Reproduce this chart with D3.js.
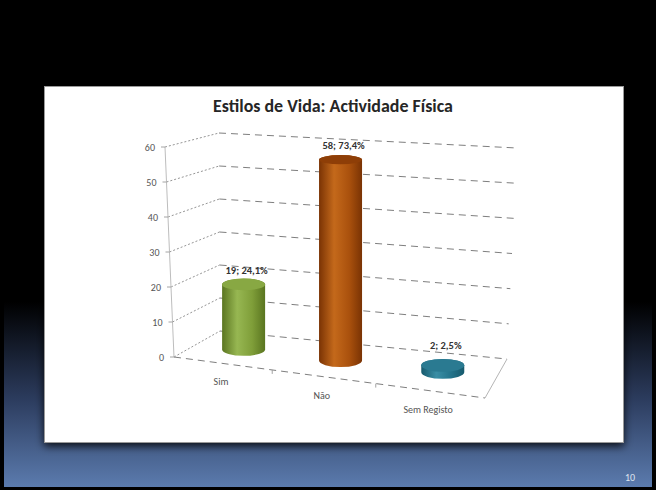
<!DOCTYPE html>
<html>
<head>
<meta charset="utf-8">
<script src="https://cdn.jsdelivr.net/npm/d3@7"></script>
<style>
  html, body { margin: 0; padding: 0; background: #000; }
  svg { display: block; }
  text { font-family: Carlito, Calibri, Lato, "Open Sans", sans-serif; }
</style>
</head>
<body>
<svg id="chart" width="656" height="490"></svg>
<script>
// ---- data ----
const categories = ["Sim", "Não", "Sem Registo"];
const counts = [19, 58, 2];
const percents = ["24,1%", "73,4%", "2,5%"];
const yTicks = [0, 10, 20, 30, 40, 50, 60];
const title = "Estilos de Vida: Actividade Física";
const slideNumber = "10";

// ---- colours per series ----
const palettes = [
  { dark: "#5a7520", mid: "#7f9e39", light: "#97b752", top: "#88a843" },
  { dark: "#7a3304", mid: "#aa510d", light: "#c4691b", top: "#8e3e07" },
  { dark: "#175a6d", mid: "#23738a", light: "#3a8ea5", top: "#2a7a91" }
];

const W = 656, H = 490;
const svg = d3.select("#chart");
const defs = svg.append("defs");

// slide background: black fading into blue towards the bottom
const bg = defs.append("linearGradient").attr("id", "bgGrad")
  .attr("x1", 0).attr("y1", 0).attr("x2", 0).attr("y2", 1);
bg.append("stop").attr("offset", 0).attr("stop-color", "#000");
bg.append("stop").attr("offset", 0.62).attr("stop-color", "#000");
bg.append("stop").attr("offset", 0.82).attr("stop-color", "#2c3c5e");
bg.append("stop").attr("offset", 1).attr("stop-color", "#5b7bae");

const shadow = defs.append("filter").attr("id", "panelShadow")
  .attr("x", "-10%").attr("y", "-10%").attr("width", "120%").attr("height", "125%");
shadow.append("feDropShadow").attr("dx", 0).attr("dy", 3)
  .attr("stdDeviation", 4).attr("flood-color", "#000").attr("flood-opacity", 0.85);

svg.append("rect").attr("width", W).attr("height", H).attr("fill", "#000");
svg.append("rect").attr("x", 4).attr("y", 0).attr("width", 648).attr("height", 487)
  .attr("fill", "url(#bgGrad)");

// white chart panel
svg.append("rect").attr("x", 44.5).attr("y", 86.5).attr("width", 579).attr("height", 356)
  .attr("fill", "#fff").attr("stroke", "#9a9a9a").attr("stroke-width", 1)
  .attr("filter", "url(#panelShadow)");

// page number
svg.append("text").attr("x", 630).attr("y", 481).attr("text-anchor", "middle")
  .attr("font-size", 10).attr("fill", "#dfe5f0").text(slideNumber);

// title, fitted to its width
const titleEl = svg.append("text").attr("x", 333).attr("y", 112)
  .attr("text-anchor", "middle").attr("font-weight", "bold")
  .attr("font-size", 17).attr("fill", "#262626").text(title);
const tw = titleEl.node().getComputedTextLength();
titleEl.attr("font-size", 17 * Math.min(1.1, 240 / tw));

// ---- 3D box projection ----
// corners of the plot box on screen: F/B = front/back, L/R = left/right, B/T = bottom/top
const box = {
  FLB: [174, 357], FLT: [165, 147],
  BLB: [220, 331], BLT: [219, 133],
  FRB: [485, 398], FRT: [497, 185],
  BRB: [507, 359], BRT: [517, 148]
};
const lerp = (a, b, t) => [a[0] + (b[0] - a[0]) * t, a[1] + (b[1] - a[1]) * t];
// perspective foreshortening along the category direction
const warp = u => u / (u + (1 - u) * 1.083);
// u: category position 0..1, w: depth 0 (front)..1 (back), t: value fraction 0..1
function proj(u, w, t) {
  const a = warp(u);
  const bot = lerp(lerp(box.FLB, box.BLB, w), lerp(box.FRB, box.BRB, w), a);
  const top = lerp(lerp(box.FLT, box.BLT, w), lerp(box.FRT, box.BRT, w), a);
  return lerp(bot, top, t);
}

const y = d3.scaleLinear().domain([0, 60]).range([0, 1]);
const x = d3.scaleBand().domain(categories).range([0, 1]).padding(0);
const xc = c => x(c) + x.bandwidth() / 2;

const line = d3.line();
const g = svg.append("g");

// back-wall gridlines
g.selectAll(".backGrid").data(yTicks).join("path")
  .attr("d", v => line([proj(0, 1, y(v)), proj(1, 1, y(v))]))
  .attr("fill", "none").attr("stroke", "#6f6f6f").attr("stroke-width", 0.9)
  .attr("stroke-dasharray", "7,5");

// side-wall gridlines
g.selectAll(".sideGrid").data(yTicks).join("path")
  .attr("d", v => line([proj(0, 0, y(v)), proj(0, 1, y(v))]))
  .attr("fill", "none").attr("stroke", "#7a7a7a").attr("stroke-width", 0.8)
  .attr("stroke-dasharray", "2,2");

// floor edges
g.append("path").attr("d", line([proj(0, 0, 0), proj(1, 0, 0)]))
  .attr("fill", "none").attr("stroke", "#6f6f6f").attr("stroke-width", 0.9)
  .attr("stroke-dasharray", "7,5");
g.append("path").attr("d", line([proj(1, 0, 0), proj(1, 1, 0)]))
  .attr("fill", "none").attr("stroke", "#b5b5b5").attr("stroke-width", 1);

// category boundary ticks on the front floor edge
g.selectAll(".catTick").data(categories.slice(1)).join("path")
  .attr("d", c => { const p = proj(x(c), 0, 0); return line([p, [p[0], p[1] + 4]]); })
  .attr("stroke", "#9a9a9a").attr("stroke-width", 0.9);

// value axis
g.append("path").attr("d", line([proj(0, 0, 0), proj(0, 0, 1)]))
  .attr("fill", "none").attr("stroke", "#bdbdbd").attr("stroke-width", 1);
g.selectAll(".yTick").data(yTicks).join("path")
  .attr("d", v => { const p = proj(0, 0, y(v)); return line([[p[0] - 4, p[1]], p]); })
  .attr("stroke", "#9a9a9a").attr("stroke-width", 0.9);
g.selectAll(".yLabel").data(yTicks).join("text")
  .attr("x", v => proj(0, 0, y(v))[0] - 10)
  .attr("y", v => proj(0, 0, y(v))[1] + 3.5)
  .attr("text-anchor", "end").attr("font-size", 10).attr("fill", "#555")
  .text(v => v);

// category labels
g.selectAll(".xLabel").data(categories).join("text")
  .attr("x", c => proj(xc(c), 0, 0)[0] - 1.5)
  .attr("y", c => proj(xc(c), 0, 0)[1] + 22)
  .attr("text-anchor", "middle").attr("font-size", 10).attr("fill", "#555")
  .text(c => c);

// ---- cylinders ----
const rx = 21.5;
categories.forEach((c, i) => {
  const pal = palettes[i];
  const gid = "cyl" + i;
  const grad = defs.append("linearGradient").attr("id", gid)
    .attr("x1", 0).attr("y1", 0).attr("x2", 1).attr("y2", 0);
  grad.append("stop").attr("offset", 0).attr("stop-color", pal.dark);
  grad.append("stop").attr("offset", 0.35).attr("stop-color", pal.light);
  grad.append("stop").attr("offset", 0.7).attr("stop-color", pal.mid);
  grad.append("stop").attr("offset", 1).attr("stop-color", pal.dark);

  const u = xc(c);
  const t = y(counts[i]);
  const base = proj(u, 0.5, 0);
  const cx = base[0], yb = base[1];
  const yt = proj(u, 0.5, t)[1];
  const ryB = 6.5, ryT = 6.5 - 2 * t;

  g.append("path")
    .attr("d", `M${cx - rx},${yt} L${cx - rx},${yb} A${rx},${ryB} 0 0 0 ${cx + rx},${yb} ` +
               `L${cx + rx},${yt} A${rx},${ryT} 0 0 0 ${cx - rx},${yt} Z`)
    .attr("fill", `url(#${gid})`);
  g.append("ellipse").attr("cx", cx).attr("cy", yt).attr("rx", rx).attr("ry", ryT)
    .attr("fill", pal.top);

  // value label
  const lp = proj(u, 1, t);
  g.append("text").attr("x", cx + 3).attr("y", lp[1] + 2)
    .attr("text-anchor", "middle").attr("font-size", 10.5).attr("font-weight", "bold")
    .attr("fill", "#333").text(`${counts[i]}; ${percents[i]}`);
});
</script>
</body>
</html>
